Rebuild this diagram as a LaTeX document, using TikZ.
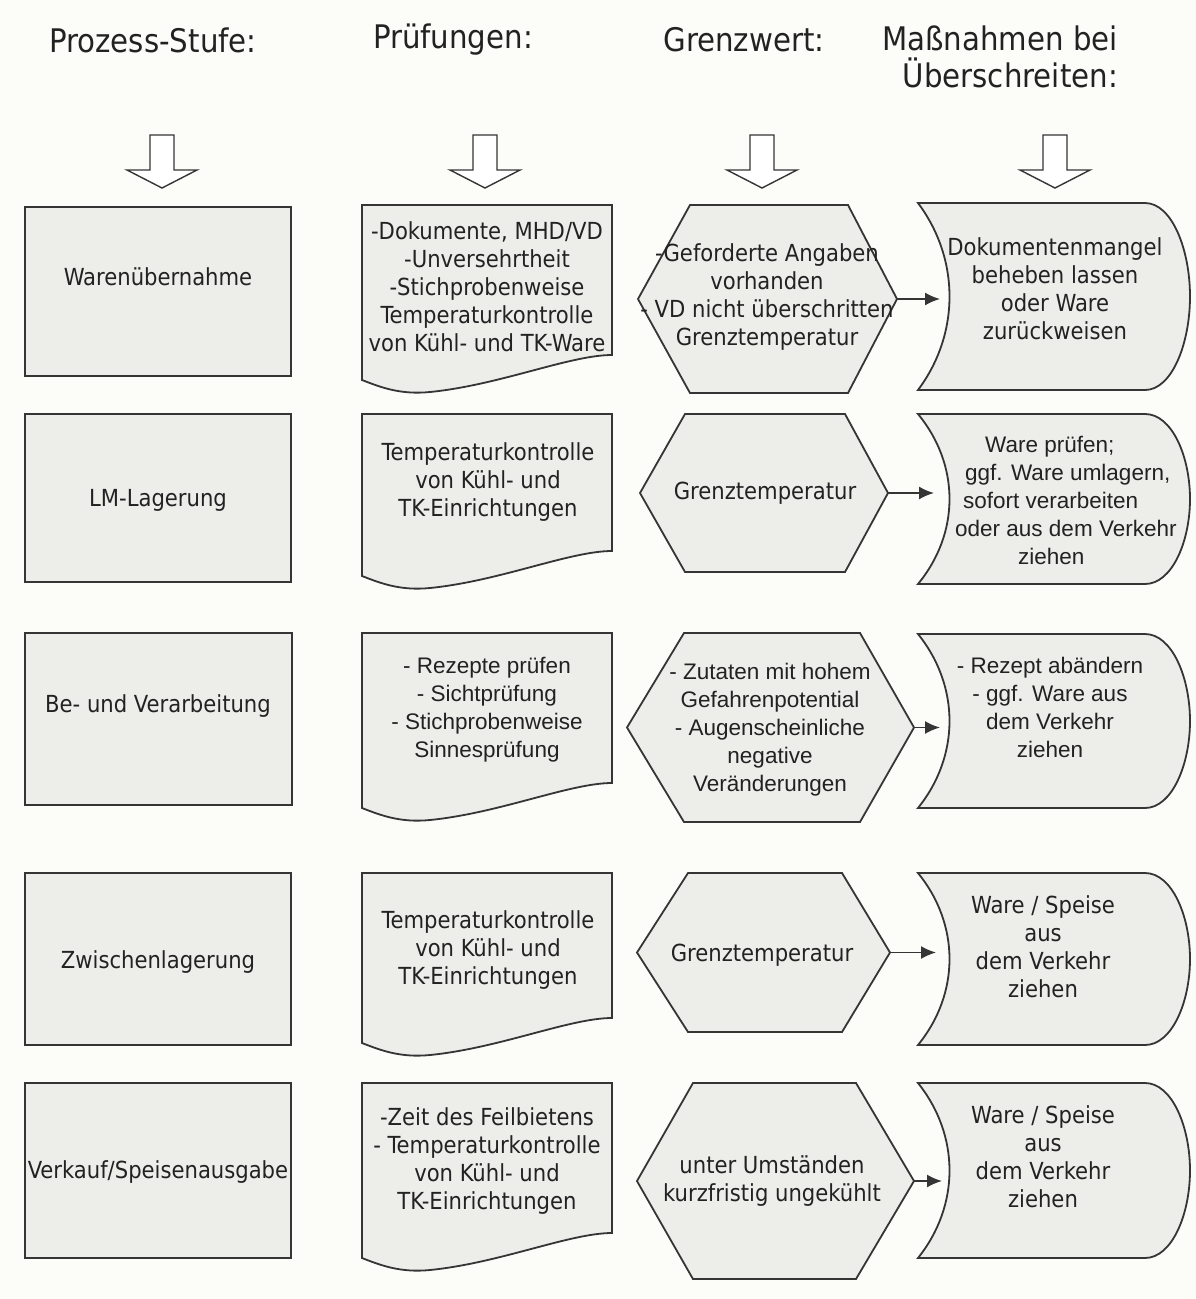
\documentclass[tikz,border=0pt]{standalone}
\usepackage{fontspec}
\setmainfont{DejaVu Sans Condensed}
\newfontfamily\arialf{Liberation Sans}
\usetikzlibrary{arrows.meta}
\definecolor{bgc}{HTML}{FCFCF8}
\definecolor{fillc}{HTML}{EDEDEA}
\definecolor{linec}{HTML}{353535}
\definecolor{txtc}{HTML}{222222}
\newcommand\docsh[2]{%
  \draw[shp] (362,#1) -- (612,#1) -- (612,{#1+#2})
    .. controls (570,{#1+#2}) and (500,{#1+#2+30}) .. (430,{#1+#2+37})
    .. controls (400,{#1+#2+40}) and (380,{#1+#2+32}) .. (362,{#1+#2+25}) -- cycle;}
\newcommand\hexsh[7]{%
  \draw[shp] (#4,{(#2+#3)/2}) -- (#5,#2) -- (#6,#2) -- (#7,{(#2+#3)/2}) -- (#6,#3) -- (#5,#3) -- cycle;
  \coordinate (#1) at (#7,{(#2+#3)/2});}
\newcommand\rightsh[3]{%
  \draw[shp] (918,#2) -- (1145,#2)
    .. controls (1172,#2) and (1190,{#2+0.25*(#3-#2)}) .. (1190,{(#2+#3)/2})
    .. controls (1190,{#3-0.25*(#3-#2)}) and (1172,#3) .. (1145,#3) -- (918,#3)
    .. controls (960,{#3-0.3*(#3-#2)}) and (960,{#2+0.3*(#3-#2)}) .. (918,#2) -- cycle;
  \coordinate (#1) at (918,{(#2+#3)/2});}
\newcommand\hollowarrow[2]{%
  \draw[hollow] ({#1-12},135) -- ({#1+12},135) -- ({#1+12},170) -- ({#1+35},170)
    -- (#1,188) -- ({#1-35},170) -- ({#1-12},170) -- cycle;
  \coordinate (#2) at (#1,188);}
\begin{document}
\begin{tikzpicture}[x=1pt,y=-1pt,
  shp/.style={draw=linec, line width=1.8pt, fill=fillc},
  rectbox/.style={shp, rectangle, inner sep=0pt},
  txt/.style={text=txtc, font=\fontsize{23.5}{28}\selectfont, align=center, inner sep=0pt},
  atxt/.style={text=txtc, font=\arialf\fontsize{22.5}{28}\selectfont, align=center, inner sep=0pt},
  hdr/.style={text=txtc, font=\fontsize{32.5}{37}\selectfont, inner sep=0pt},
  hollow/.style={draw=linec, line width=1.4pt, fill=white},
  conn/.style={draw=linec, line width=1.8pt, -{Latex[length=15pt,width=13pt]}}]
\fill[bgc] (0,0) rectangle (1196,1299);
\useasboundingbox (0,0) rectangle (1196,1299);

% headers
\node[hdr] (hd1) at (153,40) {Prozess-Stufe:};
\node[hdr] (hd2) at (453,40) {Prüfungen:};
\node[hdr] (hd3) at (744,40) {Grenzwert:};
\node[hdr, align=right, anchor=east] (hd4) at (1118,57) {Maßnahmen bei\\Überschreiten:};

\hollowarrow{162}{a1}
\hollowarrow{485}{a2}
\hollowarrow{762}{a3}
\hollowarrow{1055}{a4}

% column 1
\node[rectbox, minimum width=266pt, minimum height=169pt] (p1) at (158,291.5) {};
\node[rectbox, minimum width=266pt, minimum height=168pt] (p2) at (158,498) {};
\node[rectbox, minimum width=267pt, minimum height=172pt] (p3) at (158.5,719) {};
\node[rectbox, minimum width=266pt, minimum height=172pt] (p4) at (158,959) {};
\node[rectbox, minimum width=266pt, minimum height=175pt] (p5) at (158,1170.5) {};
\node[txt] (p1t) at (158,277) {Warenübernahme};
\node[txt] (p2t) at (158,500) {LM-Lagerung};
\node[txt] (p3t) at (158,706) {Be- und Verarbeitung};
\node[txt] (p4t) at (158,962) {Zwischenlagerung};
\node[txt] (p5t) at (158,1172) {Verkauf/Speisenausgabe};

% column 2
\docsh{205}{150}
\docsh{414}{137}
\docsh{633}{150}
\docsh{873}{145}
\docsh{1083}{150}
\node[txt] (d1) at (487,287) {-Dokumente, MHD/VD\\-Unversehrtheit\\-Stichprobenweise\\Temperaturkontrolle\\von Kühl- und TK-Ware};
\node[txt] (d2) at (488,482) {Temperaturkontrolle\\von Kühl- und\\TK-Einrichtungen};
\node[atxt] (d3) at (487,710) {- Rezepte prüfen\\- Sichtprüfung\\- Stichprobenweise\\Sinnesprüfung};
\node[txt] (d4) at (488,950) {Temperaturkontrolle\\von Kühl- und\\TK-Einrichtungen};
\node[txt] (d5) at (487,1161) {-Zeit des Feilbietens\\- Temperaturkontrolle\\von Kühl- und\\TK-Einrichtungen};

% column 3
\hexsh{h1}{205}{393}{638}{690}{848}{897}
\hexsh{h2}{414}{572}{640}{685}{845}{888}
\hexsh{h3}{633}{822}{627}{684}{860}{914}
\hexsh{h4}{873}{1032}{637}{688}{842}{890}
\hexsh{h5}{1083}{1279}{637}{693}{856}{914}
\node[txt] (g1) at (767,297) {-Geforderte Angaben\\vorhanden\\- VD nicht überschritten\\Grenztemperatur};
\node[txt] (g2) at (765,493) {Grenztemperatur};
\node[atxt] (g3) at (770,730) {- Zutaten mit hohem\\Gefahrenpotential\\- Augenscheinliche\\negative\\Veränderungen};
\node[txt] (g4) at (762,955) {Grenztemperatur};
\node[txt] (g5) at (772,1181) {unter Umständen\\kurzfristig ungekühlt};

% column 4
\rightsh{m1}{203}{390}
\rightsh{m2}{414}{584}
\rightsh{m3}{634}{808}
\rightsh{m4}{873}{1045}
\rightsh{m5}{1083}{1258}
\node[txt] (r1) at (1055,289) {Dokumentenmangel\\beheben lassen\\oder Ware\\zurückweisen};
\node[atxt, align=left, anchor=west] (r2) at (955,500) {\hspace*{30pt}Ware prüfen;\\\hspace*{10pt}ggf. Ware umlagern,\\\hspace*{8pt}sofort verarbeiten\\oder aus dem Verkehr\\\hspace*{63pt}ziehen};
\node[atxt] (r3) at (1050,707) {- Rezept abändern\\- ggf. Ware aus\\dem Verkehr\\ziehen};
\node[txt] (r4) at (1043,947) {Ware / Speise\\aus\\dem Verkehr\\ziehen};
\node[txt] (r5) at (1043,1157) {Ware / Speise\\aus\\dem Verkehr\\ziehen};

% connectors
\draw[conn] (h1) -- ([xshift=22pt]h1 -| m1);
\draw[conn] (h2) -- ([xshift=16pt]h2 -| m2);
\draw[conn] (h3) -- ([xshift=22pt]h3 -| m3);
\draw[conn] (h4) -- ([xshift=18pt]h4 -| m4);
\draw[conn] (h5) -- ([xshift=24pt]h5 -| m5);
\end{tikzpicture}
\end{document}
